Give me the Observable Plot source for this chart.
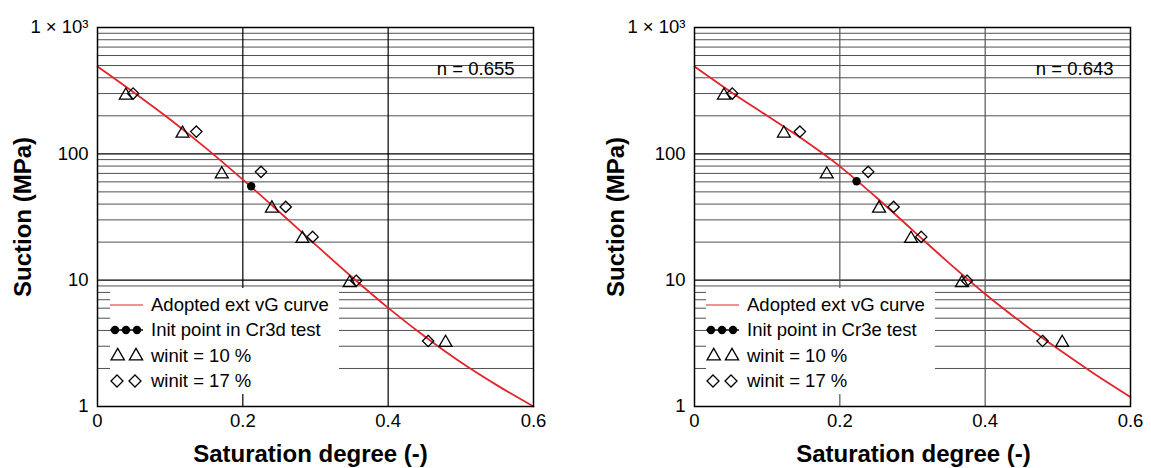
<!DOCTYPE html>
<html><head><meta charset="utf-8">
<script src="https://cdn.jsdelivr.net/npm/d3@7"></script>
<script src="https://cdn.jsdelivr.net/npm/@observablehq/plot@0.6"></script>
<style>
body{margin:0;background:#fff;font-family:"Liberation Sans",Arial,sans-serif;}
#wrap{position:relative;width:1151px;height:468px;overflow:hidden;background:#fff}
.panel{position:absolute;top:0}
.legend{position:absolute;background:#fff;font-size:18.5px;color:#000}
.row{position:absolute;left:0;height:26px;display:flex;align-items:center;white-space:nowrap}
.row svg{display:block;margin-right:8px}
</style></head><body><div id="wrap"></div>
<script>
// ---- data ----
const xTicks = [0, 0.2, 0.4, 0.6];
const yTicks = [1, 10, 100, 1000];
const yTickLabels = ["1", "10", "100", "1 × 10³"];
const yMinor = [2,3,4,5,6,7,8,9,20,30,40,50,60,70,80,90,200,300,400,500,600,700,800,900];
const xGrid = [0.2, 0.4];

const curveX  = [0, 0.05, 0.1, 0.15, 0.2, 0.25, 0.3, 0.35, 0.4, 0.45, 0.5, 0.55, 0.6];
const curveYL = [491, 306, 187, 110, 62.5, 34.8, 19.1, 10.6, 6.04, 3.6, 2.24, 1.47, 1.0];
const curveYR = [491, 309, 200, 129, 79.6, 45.3, 24.9, 13.7, 7.78, 4.63, 2.86, 1.82, 1.19];

const triXL = [0.039, 0.117, 0.171, 0.240, 0.282, 0.347, 0.479];
const triYL = [290, 145, 69, 37, 21.3, 9.5, 3.2];
const diaXL = [0.049, 0.136, 0.225, 0.259, 0.296, 0.356, 0.455];
const diaYL = [300, 150, 72, 38, 22, 9.9, 3.3];
const initL = [0.2115, 55.4];

const triXR = [0.0405, 0.123, 0.182, 0.254, 0.298, 0.368, 0.506];
const triYR = [290, 145, 69, 37, 21.3, 9.5, 3.2];
const diaXR = [0.052, 0.145, 0.239, 0.274, 0.312, 0.375, 0.479];
const diaYR = [300, 150, 72, 38, 22, 9.9, 3.3];
const initR = [0.223, 60.7];

const nLabels = ["n = 0.655", "n = 0.643"];
const legendLabelsL = ["Adopted ext vG curve", "Init point in Cr3d test", "winit = 10 %", "winit = 17 %"];
const legendLabelsR = ["Adopted ext vG curve", "Init point in Cr3e test", "winit = 10 %", "winit = 17 %"];
const yTitle = "Suction (MPa)";
const xTitle = "Saturation degree (-)";

const RED = "#e3232a";
const FONT = '"Liberation Sans", Arial, sans-serif';

function panel(p) {
  const curve = curveX.map((x, i) => ({x, y: p.curveY[i]}));
  const tri = p.triX.map((x, i) => ({x, y: p.triY[i]}));
  const dia = p.diaX.map((x, i) => ({x, y: p.diaY[i]}));
  const init = [{x: p.init[0], y: p.init[1]}];
  return Plot.plot({
    width: p.width, height: 468,
    marginLeft: p.ml, marginRight: p.mr, marginTop: 27, marginBottom: 62,
    style: {fontFamily: FONT, fontSize: "18.5px", color: "#000", background: "#fff"},
    x: {domain: [0, 0.6]},
    y: {type: "log", domain: [1, 1000]},
    marks: [
      Plot.ruleY(yMinor, {stroke: "#505050", strokeWidth: 1}),
      Plot.ruleY(yTicks, {stroke: "#000", strokeWidth: 1.2}),
      Plot.ruleX(xGrid, {stroke: p.vColor, strokeWidth: 1.2}),
      Plot.line(curve, {x: "x", y: "y", stroke: RED, strokeWidth: 1.8, curve: "monotone-x"}),
      Plot.dot(tri, {x: "x", y: "y", symbol: "triangle", r: 4.8, stroke: "#000", strokeWidth: 1.3, fill: "none"}),
      Plot.dot(dia, {x: "x", y: "y", symbol: "diamond2", r: 5.1, stroke: "#000", strokeWidth: 1.3, fill: "none"}),
      Plot.dot(init, {x: "x", y: "y", r: 4.2, fill: "#000", stroke: "none"}),
      Plot.frame({stroke: "#000", strokeWidth: 1.5}),
      Plot.axisY({ticks: yTicks, tickFormat: d => yTickLabels[yTicks.indexOf(d)], tickSize: 0, tickPadding: 9, label: null}),
      Plot.axisX({ticks: xTicks, tickFormat: d => String(d), tickSize: 0, tickPadding: 7, label: null}),
      Plot.text([p.nLabel], {text: d => d, frameAnchor: "top-right", dx: p.ndx, dy: 41.5, textAnchor: "end", lineAnchor: "middle", fontSize: 18.5}),
      Plot.text([yTitle], {text: d => d, frameAnchor: "left", rotate: -90, dx: p.ytdx, textAnchor: "middle", lineAnchor: "middle", fontWeight: "bold", fontSize: 24}),
      Plot.text([xTitle], {text: d => d, frameAnchor: "bottom", dx: p.xtdx, dy: 47.5, textAnchor: "middle", lineAnchor: "middle", fontWeight: "bold", fontSize: 24})
    ]
  });
}

function legend(labels, left) {
  const box = document.createElement("div");
  box.className = "legend";
  Object.assign(box.style, {left: left + "px", top: "288px", width: "229px", height: "106px"});
  const sym = (type, size) => d3.symbol(type, size)();
  labels.forEach((lab, i) => {
    const row = document.createElement("div");
    row.className = "row";
    row.style.top = (3.5 + i * 25.6) + "px";
    const s = d3.create("svg").attr("width", 33).attr("height", 26).style("overflow", "visible");
    if (i === 0) {
      s.append("line").attr("x1", 0).attr("x2", 33).attr("y1", 13).attr("y2", 13).attr("stroke", RED).attr("stroke-width", 1);
    } else if (i === 1) {
      s.append("line").attr("x1", 0).attr("x2", 33).attr("y1", 13).attr("y2", 13).attr("stroke", "#000").attr("stroke-width", 1.5);
      [5, 16, 27].forEach(cx => s.append("circle").attr("cx", cx).attr("cy", 13).attr("r", 4.2).attr("fill", "#000"));
    } else if (i === 2) {
      [7.7, 26].forEach(cx => s.append("path").attr("d", sym(d3.symbolTriangle, 76)).attr("transform", `translate(${cx},13)`).attr("fill", "none").attr("stroke", "#000").attr("stroke-width", 1.3));
    } else {
      [7, 25].forEach(cx => s.append("path").attr("d", sym(d3.symbolDiamond2, 92)).attr("transform", `translate(${cx},13)`).attr("fill", "none").attr("stroke", "#000").attr("stroke-width", 1.3));
    }
    row.appendChild(s.node());
    const t = document.createElement("span");
    t.textContent = lab;
    row.appendChild(t);
    box.appendChild(row);
  });
  return box;
}

const wrap = document.getElementById("wrap");
const left = panel({width: 575, ml: 97, mr: 42, curveY: curveYL, triX: triXL, triY: triYL, diaX: diaXL, diaY: diaYL, init: initL, nLabel: nLabels[0], ndx: -19, ytdx: -74.5, xtdx: -5, vColor: "#000"});
const right = panel({width: 576, ml: 119, mr: 21, curveY: curveYR, triX: triXR, triY: triYR, diaX: diaXR, diaY: diaYR, init: initR, nLabel: nLabels[1], ndx: -17, ytdx: -78, xtdx: 1, vColor: "#555"});
left.classList.add("panel"); left.style.left = "0px";
right.classList.add("panel"); right.style.left = "575px";
wrap.appendChild(left);
wrap.appendChild(right);
wrap.appendChild(legend(legendLabelsL, 110));
wrap.appendChild(legend(legendLabelsR, 706));
</script></body></html>
